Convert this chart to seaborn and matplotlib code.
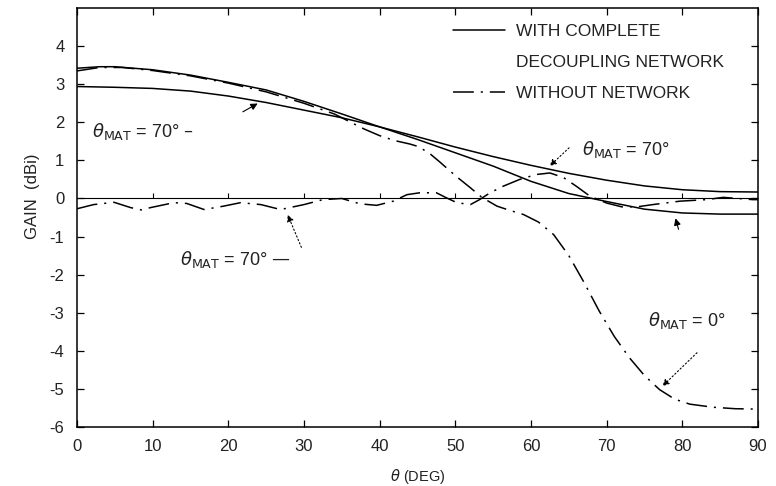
import matplotlib
matplotlib.use("Agg")
import matplotlib.pyplot as plt
from matplotlib.lines import Line2D
import seaborn as sns
import pandas as pd

# ---------------- data ----------------
theta_net_mat0 = [0, 3, 5, 10, 15, 20, 25, 30, 35, 40, 45, 50, 55, 60, 65, 70, 75, 80, 85, 90]
gain_net_mat0 = [3.42, 3.46, 3.46, 3.38, 3.24, 3.05, 2.85, 2.55, 2.22, 1.88, 1.55, 1.20,
                 0.85, 0.45, 0.13, -0.08, -0.28, -0.38, -0.41, -0.41]

theta_net_mat70 = [0, 5, 10, 15, 20, 25, 30, 35, 40, 45, 50, 55, 60, 65, 70, 75, 80, 85, 90]
gain_net_mat70 = [2.94, 2.92, 2.89, 2.82, 2.69, 2.52, 2.32, 2.12, 1.88, 1.62, 1.35, 1.10,
                  0.87, 0.66, 0.48, 0.33, 0.23, 0.18, 0.17]

theta_nonet_mat0 = [0, 3, 6, 10, 15, 20, 25, 30, 34, 36, 38, 40, 42, 44, 45, 46.5, 48, 50,
                    52, 53.5, 55.5, 57, 59, 61, 63, 65, 67, 69, 71, 73, 75, 77, 79, 81,
                    84, 87, 90]
gain_nonet_mat0 = [3.35, 3.44, 3.44, 3.36, 3.22, 3.03, 2.80, 2.50, 2.22, 2.02, 1.82, 1.65,
                   1.52, 1.43, 1.37, 1.20, 0.95, 0.60, 0.28, 0.03, -0.20, -0.30, -0.42,
                   -0.62, -0.95, -1.50, -2.20, -2.95, -3.62, -4.18, -4.65, -5.02, -5.27,
                   -5.40, -5.48, -5.52, -5.53]

theta_nonet_mat70 = [0, 2.2, 4.9, 7.1, 8.5, 9.7, 12.8, 14.5, 16.8, 19.4, 21.6, 24.3, 26.9,
                     30, 32.5, 35, 37.4, 39.6, 41.8, 43.6, 45.3, 47.5, 48.8, 50.2, 52,
                     53.2, 54.6, 56.3, 58.5, 60.7, 62.5, 64.3, 66, 67.8, 70, 72, 74,
                     76.1, 79.7, 83.2, 85.4, 89.3, 90]
gain_nonet_mat70 = [-0.27, -0.16, -0.10, -0.24, -0.30, -0.24, -0.11, -0.13, -0.29, -0.20,
                    -0.11, -0.16, -0.29, -0.16, -0.03, 0.00, -0.14, -0.18, -0.07, 0.10,
                    0.15, 0.15, 0.02, -0.11, -0.16, -0.03, 0.15, 0.32, 0.50, 0.63, 0.67,
                    0.55, 0.32, 0.06, -0.12, -0.22, -0.22, -0.16, -0.07, -0.03, 0.03,
                    -0.03, -0.03]

net_with = "WITH COMPLETE\nDECOUPLING NETWORK"
net_without = "WITHOUT NETWORK"

xticks = [0, 10, 20, 30, 40, 50, 60, 70, 80, 90]
yticks = [4, 3, 2, 1, 0, -1, -2, -3, -4, -5, -6]
ytick_labels = ["4", "3", "2", "1", "0", "-1", "-2", "-3", "-4", "-5", "-6"]

# ---------------- frame ----------------
frames = []
for name, net, th, g in [
    ("with_mat0", net_with, theta_net_mat0, gain_net_mat0),
    ("with_mat70", net_with, theta_net_mat70, gain_net_mat70),
    ("without_mat0", net_without, theta_nonet_mat0, gain_nonet_mat0),
    ("without_mat70", net_without, theta_nonet_mat70, gain_nonet_mat70),
]:
    frames.append(pd.DataFrame({"theta": th, "gain": g, "curve": name, "network": net}))
df = pd.concat(frames, ignore_index=True)

sns.set_style("ticks")
plt.rcParams["font.family"] = ["Liberation Sans", "DejaVu Sans"]
plt.rcParams["lines.scale_dashes"] = False
plt.rcParams["mathtext.fontset"] = "dejavusans"

fig = plt.figure(figsize=(7.76, 4.86), dpi=100)
ax = fig.add_axes([0.0992, 0.1214, 0.8776, 0.862])

dash_dot = (15, 5, 1.5, 5)
sns.lineplot(data=df, x="theta", y="gain", units="curve", style="network",
             estimator=None, sort=False, color="black", linewidth=1.1,
             dashes={net_with: "", net_without: dash_dot}, legend=False, ax=ax)

# zero reference line with small tick marks
ax.axhline(0, color="black", linewidth=0.8)
ax.vlines(xticks[1:-1], 0, 0.14, color="black", linewidth=0.8)

ax.set_xlim(0, 90)
ax.set_ylim(-6, 5)
ax.set_xticks(xticks)
ax.set_yticks(yticks)
ax.set_yticklabels(ytick_labels)
ax.tick_params(axis="both", which="major", direction="in", length=5, width=0.9,
               labelsize=12, top=True, right=True, color="black", labelcolor="#222222")
ax.tick_params(axis="x", pad=9)
ax.tick_params(axis="y", pad=9)
for sp in ax.spines.values():
    sp.set_visible(True)
    sp.set_linewidth(1.1)
    sp.set_color("black")

ax.set_xlabel(r"$\theta$ (DEG)", fontsize=10.5, color="#222222")
ax.set_ylabel("GAIN  (dBi)", fontsize=12, color="#222222")
ax.xaxis.set_label_coords(0.5, -0.095)
ax.yaxis.set_label_coords(-0.054, 0.55)

# legend
handles = [Line2D([], [], color="black", linewidth=1.1),
           Line2D([], [], color="none"),
           Line2D([], [], color="black", linewidth=1.1, dashes=dash_dot)]
labels = ["WITH COMPLETE", "DECOUPLING NETWORK", "WITHOUT NETWORK"]
ax.legend(handles, labels, loc="upper left", bbox_to_anchor=(0.552, 0.962),
          frameon=False, fontsize=12.5, handlelength=3.0, handletextpad=0.65,
          labelspacing=0.9, borderaxespad=0, borderpad=0, labelcolor="#222222")

# annotations
tkw = dict(fontsize=13, color="#222222")
akw = dict(arrowstyle="-|>", color="black", lw=0.8, mutation_scale=10)
mat70 = r"$\theta_{\mathrm{MAT}}$ = 70°"

ax.text(2.0, 1.75, mat70 + " –", va="center", ha="left", **tkw)
ax.annotate("", xy=(24.2, 2.53), xytext=(21.6, 2.24), arrowprops=akw)

ax.text(13.6, -1.6, mat70 + " —", va="center", ha="left", **tkw)
ax.annotate("", xy=(27.7, -0.36), xytext=(29.8, -1.35),
            arrowprops=dict(akw, linestyle=":"))

ax.text(66.8, 1.28, mat70, va="center", ha="left", **tkw)
ax.annotate("", xy=(62.2, 0.8), xytext=(65.3, 1.38),
            arrowprops=dict(akw, linestyle=":"))

ax.text(75.5, -3.2, r"$\theta_{\mathrm{MAT}}$ = 0°", va="center", ha="left", **tkw)
ax.annotate("", xy=(77.1, -4.98), xytext=(82.2, -4.0),
            arrowprops=dict(akw, linestyle=":"))
ax.annotate("", xy=(79.0, -0.45), xytext=(79.6, -0.88), arrowprops=akw)

fig.savefig("out.png", dpi=100, facecolor="white")
